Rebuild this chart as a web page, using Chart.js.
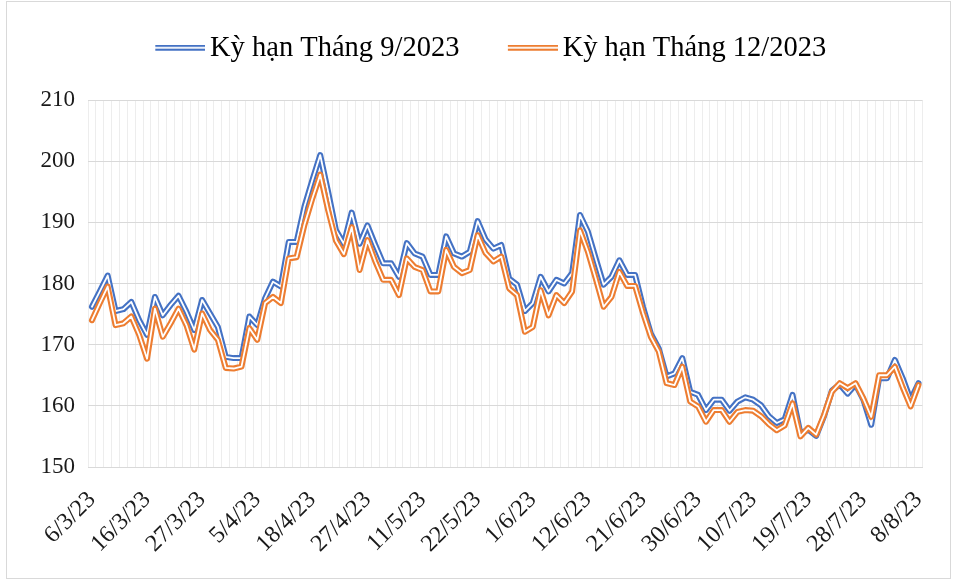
<!DOCTYPE html>
<html>
<head>
<meta charset="utf-8">
<script src="https://cdn.jsdelivr.net/npm/chart.js@4.4.0/dist/chart.umd.min.js"></script>
<style>
body{margin:0;background:#fff}
#khung{position:absolute;left:6px;top:1px;width:945px;height:578px;border:1px solid #d9d9d9;box-sizing:border-box}
canvas{position:absolute;left:0;top:0}
</style>
</head>
<body>
<div id="khung"></div>
<canvas id="bieudo" width="958" height="583"></canvas>
<script>

let ngay=[
'6/3/23','7/3/23','8/3/23','9/3/23','10/3/23','13/3/23','14/3/23','16/3/23',
'17/3/23','20/3/23','21/3/23','22/3/23','23/3/23','24/3/23','27/3/23',
'28/3/23','29/3/23','30/3/23','31/3/23','3/4/23','4/4/23','5/4/23',
'6/4/23','7/4/23','10/4/23','12/4/23','13/4/23','17/4/23','18/4/23',
'19/4/23','20/4/23','21/4/23','24/4/23','25/4/23','26/4/23','27/4/23',
'28/4/23','1/5/23','2/5/23','8/5/23','9/5/23','10/5/23','11/5/23',
'12/5/23','15/5/23','16/5/23','17/5/23','18/5/23','19/5/23','22/5/23',
'23/5/23','24/5/23','25/5/23','26/5/23','29/5/23','31/5/23','1/6/23',
'2/6/23','5/6/23','6/6/23','7/6/23','8/6/23','9/6/23','12/6/23',
'13/6/23','14/6/23','15/6/23','16/6/23','19/6/23','20/6/23','21/6/23',
'22/6/23','23/6/23','26/6/23','27/6/23','28/6/23','29/6/23','30/6/23',
'3/7/23','4/7/23','5/7/23','6/7/23','7/7/23','8/7/23','10/7/23',
'11/7/23','12/7/23','13/7/23','14/7/23','17/7/23','18/7/23','19/7/23',
'20/7/23','21/7/23','24/7/23','25/7/23','26/7/23','27/7/23','28/7/23',
'31/7/23','1/8/23','2/8/23','3/8/23','4/8/23','7/8/23','8/8/23'
]

let thang9=[
176.2,178.7,181.3,175.5,175.8,177.0,174.0,171.6,177.8,174.8,
176.5,178.0,175.4,172.4,177.3,175.1,172.9,168.0,167.8,167.8,
174.6,173.2,177.6,180.3,179.5,186.8,186.8,192.6,196.9,201.0,
195.0,188.7,186.5,191.6,186.5,189.5,186.3,183.3,183.3,181.1,
186.6,184.9,184.4,181.4,181.4,187.7,184.9,184.4,185.2,190.2,
187.2,185.7,186.3,180.8,179.8,175.5,176.8,181.1,178.7,180.6,
180.0,181.7,191.2,188.5,184.1,179.8,181.1,183.8,181.4,181.4,
176.2,171.8,169.4,164.8,165.3,167.8,162.3,161.8,159.3,161.0,
161.0,159.2,160.7,161.4,161.0,160.1,158.3,157.2,157.8,161.8,
155.5,156.1,155.1,158.3,162.5,163.5,162.0,163.5,161.0,156.9,
164.5,164.5,167.5,164.5,161.0,163.7
]

let thang12=[
174.0,176.8,179.5,173.2,173.5,174.6,171.6,167.7,175.9,171.3,
173.5,175.9,173.2,169.2,175.1,172.4,170.8,166.2,166.1,166.4,
172.7,170.8,176.8,177.8,176.8,184.1,184.3,189.6,193.9,197.8,
192.0,187.0,184.8,189.2,182.2,187.1,183.6,180.6,180.6,178.1,
184.1,182.7,182.2,178.7,178.7,185.5,182.7,181.7,182.2,187.9,
185.0,183.6,184.4,179.2,178.1,172.1,172.9,178.9,174.8,178.1,
176.8,178.7,188.7,185.2,180.8,176.2,177.8,181.9,179.6,179.6,
175.2,171.3,168.9,163.7,163.4,166.4,160.7,159.9,157.4,159.3,
159.3,157.4,159.0,159.3,159.2,158.3,157.0,156.0,156.8,160.4,
155.0,156.4,155.3,158.5,162.3,163.7,162.9,163.7,161.2,158.2,
165.0,165.0,166.4,163.0,159.9,163.4
]

let tenDuong=['Kỳ hạn Tháng 9/2023','Kỳ hạn Tháng 12/2023']
let mau=['#4472C4','#ED7D31']
let buoc=7

let chu='"Liberation Serif", serif'

// bieu tuong duong doi trong chu thich
function bieuTuong(m){
let c=document.createElement('canvas')
c.width=94;c.height=7
let g=c.getContext('2d')
g.fillStyle=m
g.fillRect(44,0,50,6)
g.fillStyle='#fff'
g.fillRect(44,2.1,50,1.8)
return c
}

let chuThichCao={
id:'chuThichCao',
afterInit(c){
let f=c.legend.fit
c.legend.fit=function(){f.call(this);this.height=80}
}
}

new Chart(document.getElementById('bieudo'),{
type:'line',
data:{
labels:ngay,
datasets:[
{data:thang12,borderColor:'#fff',borderWidth:1.8,order:0},
{data:thang12,borderColor:mau[1],borderWidth:6,order:1},
{data:thang9,borderColor:'#fff',borderWidth:1.8,order:2},
{data:thang9,borderColor:mau[0],borderWidth:6,order:3}
]
},
options:{
responsive:false,
animation:false,
layout:{padding:{left:22,right:33,top:20,bottom:0}},
elements:{point:{radius:0},line:{tension:0,borderJoinStyle:'round',borderCapStyle:'round'}},
plugins:{
tooltip:{enabled:false},
legend:{
position:'top',
labels:{
usePointStyle:true,
pointStyleWidth:75,
padding:14,
color:'#1a1a1a',
font:{family:chu,size:28.5},
generateLabels:()=>tenDuong.map((t,i)=>({
text:t,
fillStyle:mau[i],
strokeStyle:mau[i],
lineWidth:0,
pointStyle:bieuTuong(mau[i]),
datasetIndex:i==0?3:1,
hidden:false
}))
}
}
},
scales:{
x:{
offset:true,
grid:{offset:true,color:'#ededed',drawTicks:false},
border:{color:'#d9d9d9'},
ticks:{
autoSkip:false,
minRotation:45,
maxRotation:45,
padding:19,
color:'#1a1a1a',
font:{family:chu,size:24},
callback:(v,i)=>i%buoc==0?ngay[i]:''
},
afterFit:s=>{s.height=116}
},
y:{
min:150,
max:210,
grid:{color:'#d9d9d9',drawTicks:false},
border:{display:false},
ticks:{stepSize:10,padding:13,color:'#1a1a1a',font:{family:chu,size:23}},
afterFit:s=>{s.width=66}
}
}
},
plugins:[chuThichCao]
})

</script>
</body>
</html>
